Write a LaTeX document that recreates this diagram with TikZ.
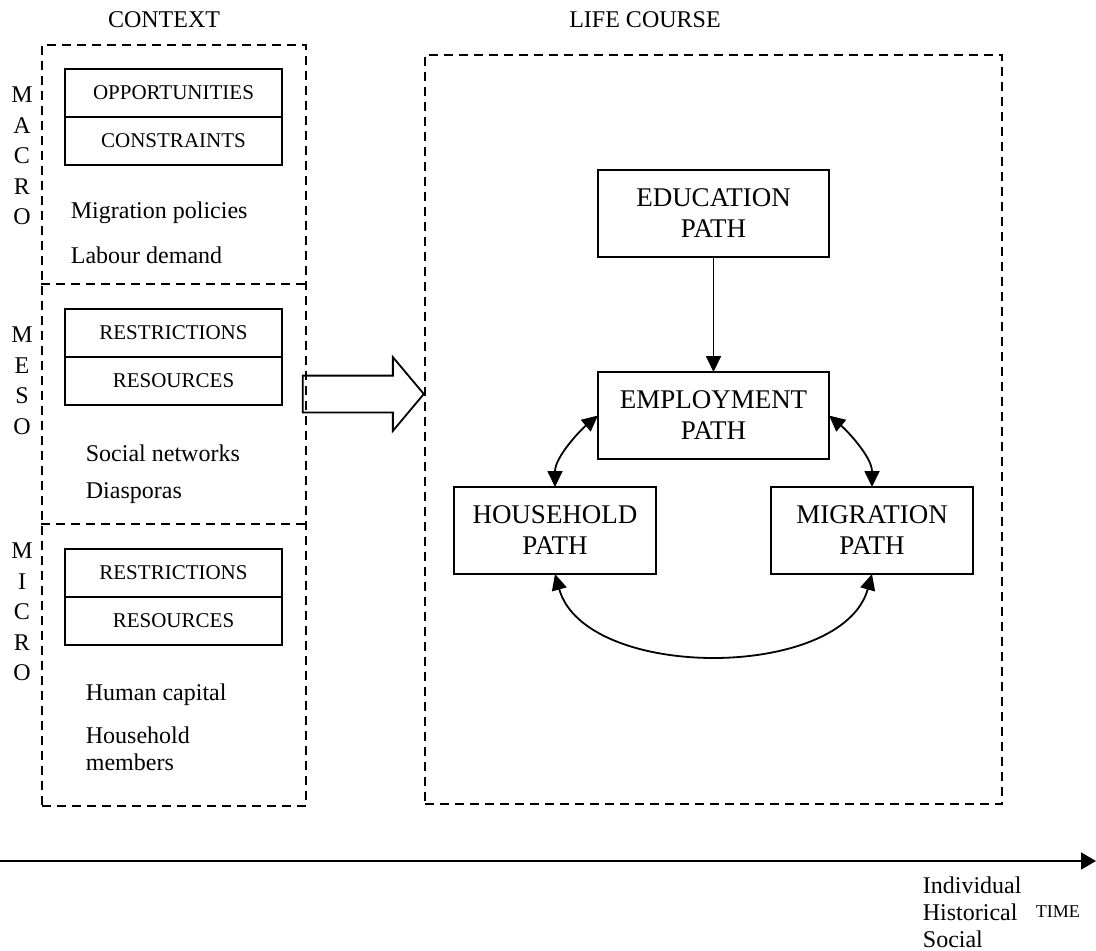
\documentclass[tikz,border=0pt]{standalone}
\usepackage{fontspec}
\setmainfont{Liberation Serif}
\usepackage{tikz}
\usetikzlibrary{positioning}
\usetikzlibrary{arrows.meta}
\usetikzlibrary{shapes.arrows}

\tikzset{
  zoneline/.style={line width=2.5pt,dash pattern=on 9pt off 6pt},
  zone/.style={draw,zoneline,minimum width=264pt,inner sep=0pt,outer sep=0pt},
  lvlbox/.style={draw,line width=2pt,minimum width=217pt,minimum height=48pt,inner sep=0pt,outer sep=0pt,font=\fontsize{21}{25}\selectfont},
  pathbox/.style={draw,line width=2pt,minimum height=87pt,align=center,inner sep=0pt,outer sep=0pt,font=\fontsize{27}{31}\selectfont},
  lvl/.style={align=center,font=\fontsize{24}{30.5}\selectfont},
  factor/.style={anchor=west,align=left,inner sep=0pt,font=\fontsize{24}{27}\selectfont},
  bigarrow/.style={single arrow,draw,line width=1.8pt,minimum height=121pt,inner xsep=0pt,inner ysep=17.5pt,single arrow head extend=18.5pt,single arrow tip angle=100}
}

\begin{document}
\begin{tikzpicture}[x=1pt,y=-1pt,>={Triangle[length=16pt,width=15pt]},line width=1.8pt]
\useasboundingbox (0,0) rectangle (1096,951);

% context column
\node[font=\fontsize{24}{28}\selectfont] (context) at (164,20) {CONTEXT};
\node[zone,minimum height=761pt] (column) at (174,425.5) {};
\node[minimum width=264pt,minimum height=240pt,inner sep=0pt] (macro) at (174,165) {};
\node[minimum width=264pt,minimum height=240pt,inner sep=0pt] (meso)  at (174,405) {};
\node[minimum width=264pt,minimum height=281pt,inner sep=0pt] (micro) at (174,665.5) {};
\draw[zoneline] (meso.north west) -- (meso.north east);
\draw[zoneline] (micro.north west) -- (micro.north east);

\node[lvl] (macrol) at (22,156) {M\\A\\C\\R\\O};
\node[lvl] (mesol)  at (22,381) {M\\E\\S\\O};
\node[lvl] (microl) at (22,612) {M\\I\\C\\R\\O};

\node[lvlbox] (opp)  at (173.5,93)  {OPPORTUNITIES};
\node[lvlbox] (cons) [below=0pt of opp]  {CONSTRAINTS};
\node[lvlbox] (rstA) at (173.5,333) {RESTRICTIONS};
\node[lvlbox] (resA) [below=0pt of rstA] {RESOURCES};
\node[lvlbox] (rstB) at (173.5,573) {RESTRICTIONS};
\node[lvlbox] (resB) [below=0pt of rstB] {RESOURCES};

\node[factor] (policy) at (70,213)  {Migration policies};
\node[factor] (labour) at (70,255)  {Labour demand};
\node[factor] (netw)   at (85,453)  {Social networks};
\node[factor] (diasp)  at (85,493)  {Diasporas};
\node[factor] (human)  at (85,695)  {Human capital};
\node[factor] (hhmem)  at (85,748.5) {Household\\members};

% life course
\node[font=\fontsize{24}{28}\selectfont] (lifec) at (645,20) {LIFE COURSE};
\node[zone,minimum width=577pt,minimum height=749pt] (life) at (713.5,429.5) {};

\node[pathbox,minimum width=231pt] (edu) at (713.5,213.5) {EDUCATION\\PATH};
\node[pathbox,minimum width=231pt] (emp) [below=115pt of edu] {EMPLOYMENT\\PATH};
\node[pathbox,minimum width=202pt] (hh)  at (555,530.5) {HOUSEHOLD\\PATH};
\node[pathbox,minimum width=202pt] (mig) at (872,530.5) {MIGRATION\\PATH};

\draw[->] (edu) -- (emp);
\draw[<->] (emp.west) .. controls +(-18,15) and +(0,-30) .. (hh.north);
\draw[<->] (emp.east) .. controls +(18,15) and +(0,-30) .. (mig.north);
\draw[<->] (hh.south) .. controls +(30,107) and +(-30,107) .. (mig.south);

\node[bigarrow,anchor=tip] (push) at ([yshift=35.5pt]life.west) {};

% time axis
\coordinate (t0) at (0,861);
\coordinate (t1) at (1096,861);
\draw[-{Triangle[length=15pt,width=17pt]}] (t0) -- (t1);
\node[factor] (kinds) at (922,912) {Individual\\Historical\\Social};
\node[factor,font=\fontsize{18}{22}\selectfont] (time) at (1035,912) {TIME};

\end{tikzpicture}
\end{document}
